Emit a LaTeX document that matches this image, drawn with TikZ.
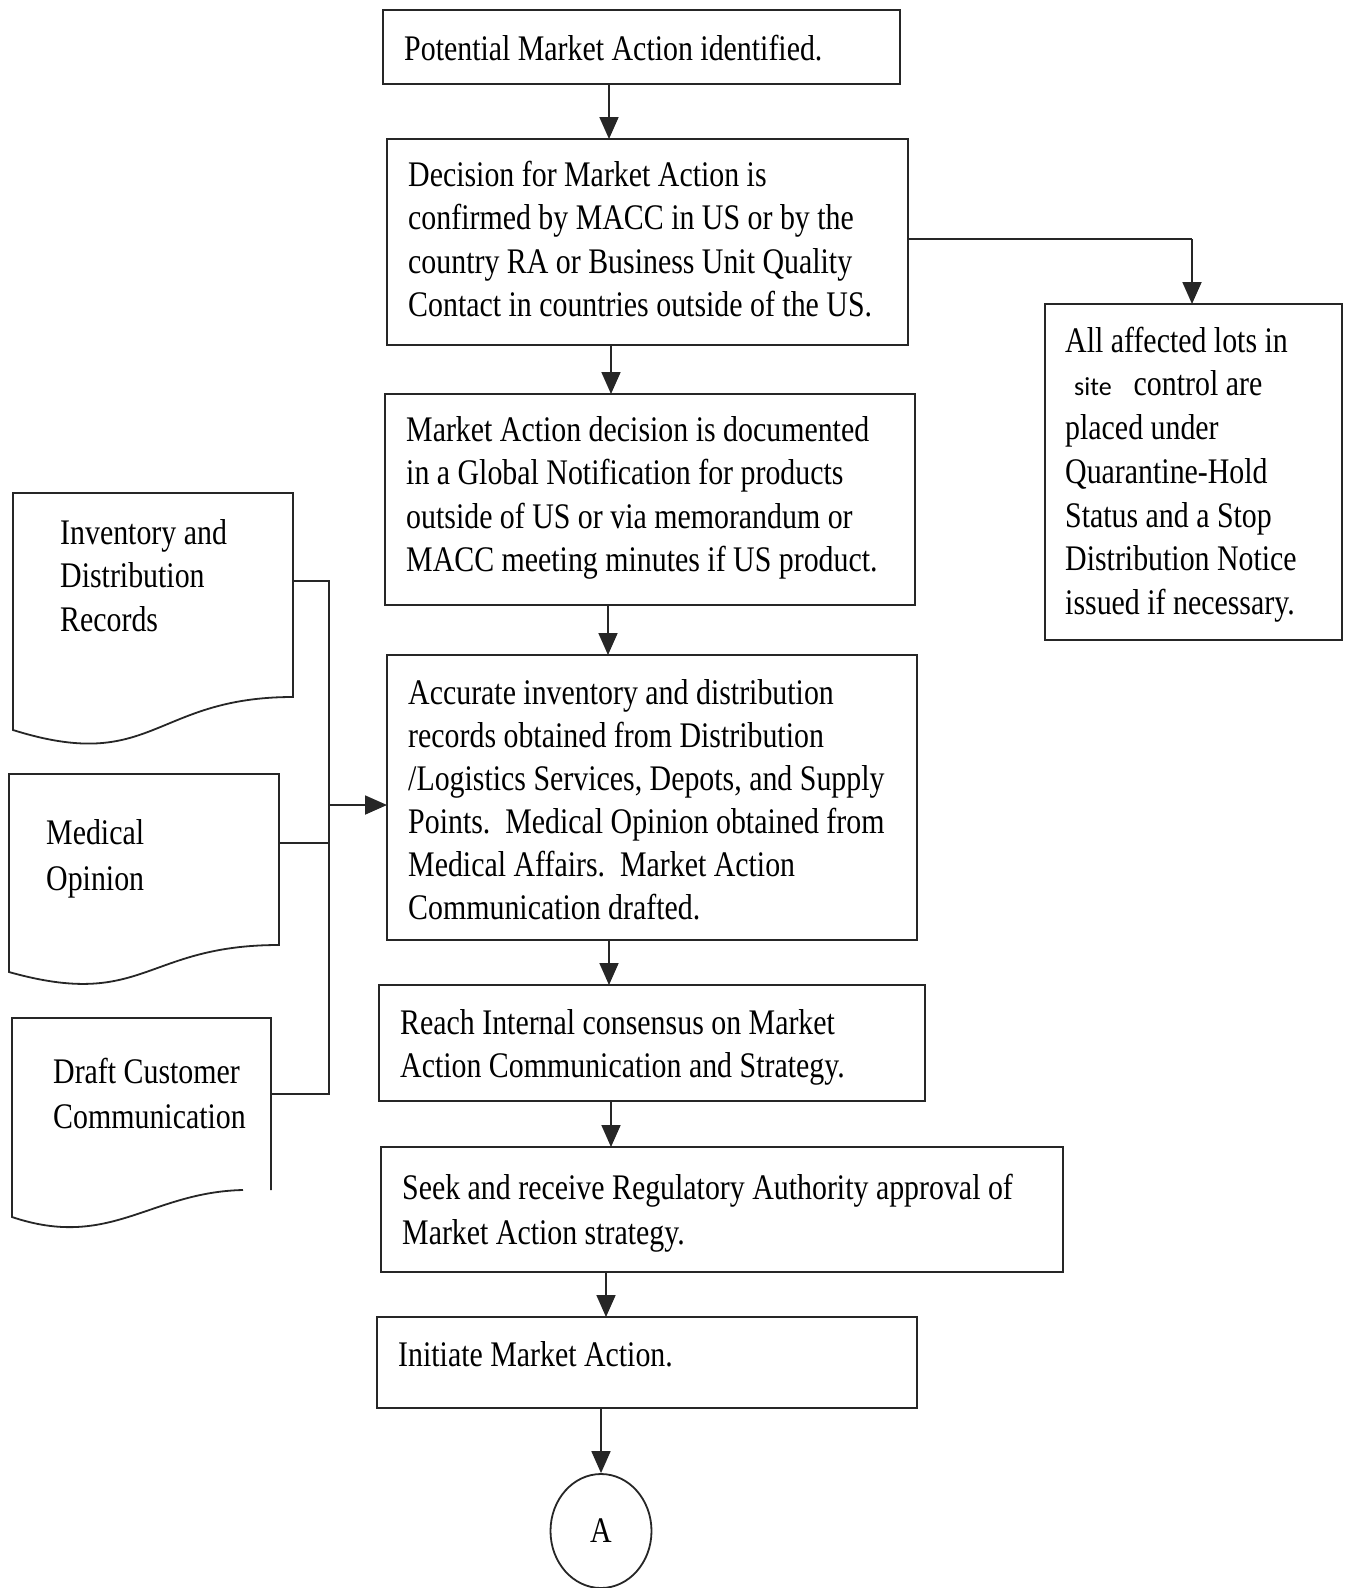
\documentclass[tikz,border=0pt]{standalone}
\usepackage{fontspec}
\usetikzlibrary{arrows.meta,shapes.geometric}
\newfontfamily\mainfnt[FakeStretch=0.83]{Liberation Serif}
\newfontfamily\sitefnt{Carlito}
\newcommand\fst{\rule{0pt}{30pt}}
\tikzset{
  box/.style={draw=black!85, line width=1.8pt, inner sep=0pt, outer sep=0pt, anchor=north west},
  txt/.style={inner sep=0pt, anchor=north west, align=left, font=\mainfnt\fontsize{36}{43.5}\selectfont, text=black},
  arr/.style={draw=black!85, line width=1.8pt, -{Triangle[length=22pt,width=19pt]}},
  ln/.style={draw=black!85, line width=1.8pt},
}
\begin{document}
\begin{tikzpicture}[x=1pt,y=-1pt]
\useasboundingbox[fill=white] (0,0) rectangle (1345,1588);

% main boxes
\node[box, minimum width=517pt, minimum height=74pt]  (b1) at (383,10) {};
\node[box, minimum width=521pt, minimum height=206pt] (b2) at (387,139) {};
\node[box, minimum width=530pt, minimum height=211pt] (b3) at (385,394) {};
\node[box, minimum width=530pt, minimum height=285pt] (b4) at (387,655) {};
\node[box, minimum width=546pt, minimum height=116pt] (b5) at (379,985) {};
\node[box, minimum width=682pt, minimum height=125pt] (b6) at (381,1147) {};
\node[box, minimum width=540pt, minimum height=91pt]  (b7) at (377,1317) {};
\node[box, minimum width=297pt, minimum height=336pt] (r1) at (1045,304) {};
\node[draw=black!85, line width=1.8pt, ellipse, minimum width=101pt, minimum height=114pt, inner sep=0pt,
      font=\mainfnt\fontsize{36}{43.5}\selectfont] (A) at (601,1531) {A};

% texts
\node[txt] (t1) at (404,30) {\fst Potential Market Action identified.};
\node[txt] (t2) at (408,156) {\fst Decision for Market Action is\\
confirmed by MACC in US or by the\\
country RA or Business Unit Quality\\
Contact in countries outside of the US.};
\node[txt] (t3) at (406,411) {\fst Market Action decision is documented\\
in a Global Notification for products\\
outside of US or via memorandum or\\
MACC meeting minutes if US product.};
\node[txt, font=\mainfnt\fontsize{36}{43}\selectfont] (t4) at (408,674) {\fst Accurate inventory and distribution\\
records obtained from Distribution\\
/Logistics Services, Depots, and Supply\\
Points.\ \ Medical Opinion obtained from\\
Medical Affairs.\ \ Market Action\\
Communication drafted.};
\node[txt] (t5) at (400,1004) {\fst Reach Internal consensus on Market\\
Action Communication and Strategy.};
\node[txt, font=\mainfnt\fontsize{36}{45}\selectfont] (t6) at (402,1169) {\fst Seek and receive Regulatory Authority approval of\\
Market Action strategy.};
\node[txt] (t7) at (398,1336) {\fst Initiate Market Action.};
\node[txt, font=\mainfnt\fontsize{36}{43.7}\selectfont] (tr) at (1065,322) {\fst All affected lots in\\
\hspace*{9pt}{\sitefnt\fontsize{26}{30}\selectfont site}\hspace{22pt}control are\\
placed under\\
Quarantine-Hold\\
Status and a Stop\\
Distribution Notice\\
issued if necessary.};

% documents
\draw[ln] (13,493) -- (293,493) -- (293,697) .. controls (153,697) and (153,774) .. (13,730) -- cycle;
\draw[ln] (9,774) -- (279,774) -- (279,945) .. controls (144,945) and (144,1010) .. (9,972) -- cycle;
\draw[ln] (271,1190) -- (271,1018) -- (12,1018) -- (12,1217) .. controls (110,1250) and (150,1192) .. (243,1190);
\node[txt, font=\mainfnt\fontsize{36}{43.5}\selectfont] (d1) at (60,514) {\fst Inventory and\\ Distribution\\ Records};
\node[txt, font=\mainfnt\fontsize{36}{46}\selectfont] (d2) at (46,814) {\fst Medical\\ Opinion};
\node[txt, font=\mainfnt\fontsize{36}{45}\selectfont] (d3) at (53,1053) {\fst Draft Customer\\ Communication};

\coordinate (d1e) at (293,581);
\coordinate (d2e) at (279,843);
\coordinate (d3e) at (271,1094);
\coordinate (bt) at (329,581);
\coordinate (bb) at (329,1094);
\coordinate (bm) at (329,805);
\coordinate (bd) at (329,843);
\coordinate (rc) at (1192,239);

% connectors
\draw[ln] (d1e) -- (bt) -- (bb) -- (d3e);
\draw[ln] (d2e) -- (bd);
\draw[arr] (bm) -- (b4.west |- bm);

\draw[arr] (b1.south -| 609,0) -- (b2.north -| 609,0);
\draw[arr] (b2.south -| 611,0) -- (b3.north -| 611,0);
\draw[arr] (b3.south -| 608,0) -- (b4.north -| 608,0);
\draw[arr] (b4.south -| 609,0) -- (b5.north -| 609,0);
\draw[arr] (b5.south -| 611,0) -- (b6.north -| 611,0);
\draw[arr] (b6.south -| 606,0) -- (b7.north -| 606,0);
\draw[arr] (b7.south -| A.north) -- (A.north);
\draw[ln] (b2.east |- rc) -- (rc);
\draw[arr] (rc) -- (r1.north -| rc);
\end{tikzpicture}
\end{document}
